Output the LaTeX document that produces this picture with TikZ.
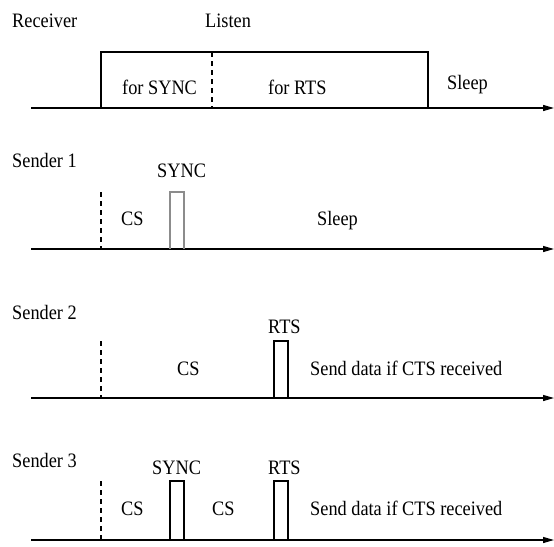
\documentclass[tikz,border=0pt]{standalone}
\usepackage{fontspec}
\setmainfont{Liberation Serif}
\usetikzlibrary{arrows.meta}
\newcommand{\tallt}[1]{\scalebox{1}[1.12]{#1}}
\begin{document}
\begin{tikzpicture}[x=1pt,y=-1pt,
  lbl/.style={anchor=base west,inner sep=0pt,font=\fontsize{18.3}{22}\selectfont,text=black},
  axis/.style={line width=1.3pt,-{Triangle[length=11pt,width=6pt]}},
  pulse/.style={line width=1.2pt},
  graypulse/.style={line width=1.2pt,draw=black!45},
  dsh/.style={line width=1.1pt,dash pattern=on 5pt off 4pt}]
\useasboundingbox (0,0) rectangle (554,546);
% Receiver
\node[lbl] (rcv) at (12,27.7) {\tallt{Receiver}};
\node[lbl] (listen) at (205,27.7) {\tallt{Listen}};
\node[lbl] (forsync) at (122,94) {\tallt{for SYNC}};
\node[lbl] (forrts) at (268,94) {\tallt{for RTS}};
\node[lbl] (rsleep) at (447,89) {\tallt{Sleep}};
\coordinate (r0) at (31,108);
\coordinate (r1) at (554,108);
\draw[axis] (r0) -- (r1);
\draw[pulse] (101,108) |- (428,52) -- (428,108);
\draw[dsh] (212,52) -- (212,108);
% Sender 1
\node[lbl] (s1) at (12,167) {\tallt{Sender 1}};
\node[lbl] (s1sync) at (157,177) {\tallt{SYNC}};
\node[lbl] (s1cs) at (121,225) {\tallt{CS}};
\node[lbl] (s1sleep) at (317,225) {\tallt{Sleep}};
\coordinate (a0) at (31,249);
\coordinate (a1) at (554,249);
\draw[axis] (a0) -- (a1);
\draw[dsh] (101,192) -- (101,249);
\draw[graypulse] (170,249) |- (184,192) -- (184,249);
% Sender 2
\node[lbl] (s2) at (12,319) {\tallt{Sender 2}};
\node[lbl] (s2rts) at (268,333) {\tallt{RTS}};
\node[lbl] (s2cs) at (177,375) {\tallt{CS}};
\node[lbl] (s2send) at (310,375) {\tallt{Send data if CTS received}};
\coordinate (b0) at (31,398);
\coordinate (b1) at (554,398);
\draw[axis] (b0) -- (b1);
\draw[dsh] (101,341) -- (101,398);
\draw[pulse] (274,398) |- (288,341) -- (288,398);
% Sender 3
\node[lbl] (s3) at (12,467) {\tallt{Sender 3}};
\node[lbl] (s3sync) at (152,474) {\tallt{SYNC}};
\node[lbl] (s3rts) at (268,474) {\tallt{RTS}};
\node[lbl] (s3cs1) at (121,515) {\tallt{CS}};
\node[lbl] (s3cs2) at (212,515) {\tallt{CS}};
\node[lbl] (s3send) at (310,515) {\tallt{Send data if CTS received}};
\coordinate (c0) at (31,540);
\coordinate (c1) at (554,540);
\draw[axis] (c0) -- (c1);
\draw[dsh] (101,481) -- (101,540);
\draw[pulse] (170,540) |- (184,481) -- (184,540);
\draw[pulse] (274,540) |- (288,481) -- (288,540);
\end{tikzpicture}
\end{document}
